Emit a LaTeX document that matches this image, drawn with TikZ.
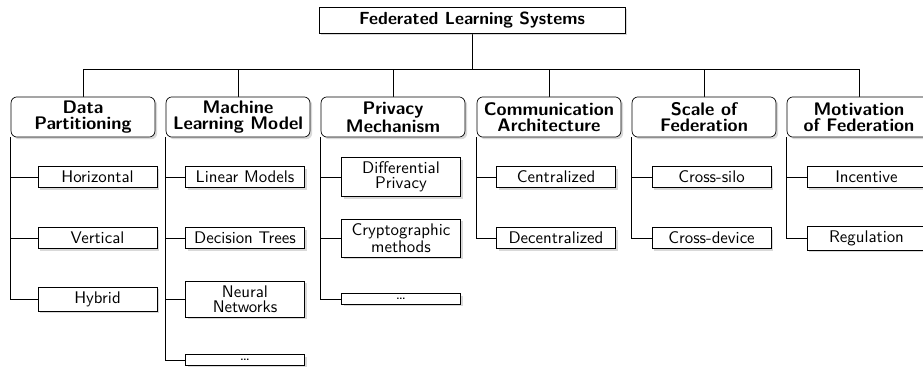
\documentclass[tikz,border=0pt]{standalone}
\usetikzlibrary{shadows}
\pgfdeclarelayer{edgelayer}
\pgfdeclarelayer{nodelayer}
\pgfsetlayers{edgelayer,nodelayer,main}
\tikzstyle{none}=[inner sep=0pt]
\tikzstyle{root}=[rectangle,draw=black,fill=white,minimum width=181.6pt,minimum height=15.4pt,inner sep=1pt,font=\sffamily\bfseries\fontsize{10.4}{11}\selectfont,drop shadow={shadow xshift=1.3pt,shadow yshift=-1.3pt,opacity=0.3}]
\tikzstyle{category}=[rectangle,rounded corners=3.5pt,draw=black,fill=white,minimum width=85.4pt,minimum height=23.8pt,inner sep=1pt,align=center,font=\sffamily\bfseries\fontsize{10.8}{9.4}\selectfont,drop shadow={shadow xshift=1.3pt,shadow yshift=-1.3pt,opacity=0.3}]
\tikzstyle{leaf}=[rectangle,draw=black,fill=white,minimum width=70.6pt,inner xsep=1pt,inner ysep=2.7pt,align=center,font=\sffamily\fontsize{10}{8.8}\selectfont,drop shadow={shadow xshift=1.3pt,shadow yshift=-1.3pt,opacity=0.3}]
\tikzstyle{branch}=[draw=black,line width=0.5pt]

\begin{document}
\begin{tikzpicture}[x=0.5935pt,y=-0.5935pt]
	\useasboundingbox (0,0) rectangle (923,367);
	\begin{pgfonlayer}{nodelayer}
		\node [style=root] (0) at (472, 20) {Federated Learning Systems};
		\node [style=category] (1) at (83, 117) {Data\\Partitioning};
		\node [style=category] (2) at (238, 117) {Machine\\Learning Model};
		\node [style=category] (3) at (393, 117) {Privacy\\Mechanism};
		\node [style=category] (4) at (549, 117) {Communication\\Architecture};
		\node [style=category] (5) at (704, 117) {Scale of\\Federation};
		\node [style=category] (6) at (859, 117) {Motivation\\of Federation};
		\node [style=none] (7) at (472, 69) {};
		\node [style=leaf] (8) at (97.5, 177) {Horizontal};
		\node [style=leaf] (9) at (97.5, 238) {Vertical};
		\node [style=leaf] (10) at (97.5, 299) {Hybrid};
		\node [style=leaf] (11) at (245, 177) {Linear Models};
		\node [style=leaf] (12) at (245, 238) {Decision Trees};
		\node [style=leaf] (13) at (245, 299) {Neural\\Networks};
		\node [style=leaf] (14) at (245, 360) {\dots};
		\node [style=leaf] (15) at (401, 177) {Differential\\Privacy};
		\node [style=leaf] (16) at (401, 238) {Cryptographic\\methods};
		\node [style=leaf] (17) at (401, 299) {\dots};
		\node [style=leaf] (18) at (556, 177) {Centralized};
		\node [style=leaf] (19) at (556, 238) {Decentralized};
		\node [style=leaf] (20) at (711.5, 177) {Cross-silo};
		\node [style=leaf] (21) at (711.5, 238) {Cross-device};
		\node [style=leaf] (22) at (866.5, 177) {Incentive};
		\node [style=leaf] (23) at (866.5, 238) {Regulation};
	\end{pgfonlayer}
	\begin{pgfonlayer}{edgelayer}
		\draw [style=branch] (0) -- (7.center);
		\draw [style=branch] (7.center) -| (1);
		\draw [style=branch] (7.center) -| (2);
		\draw [style=branch] (7.center) -| (3);
		\draw [style=branch] (7.center) -| (4);
		\draw [style=branch] (7.center) -| (5);
		\draw [style=branch] (7.center) -| (6);
		\draw [style=branch] (1.south west) |- (8);
		\draw [style=branch] (1.south west) |- (9);
		\draw [style=branch] (1.south west) |- (10);
		\draw [style=branch] (2.south west) |- (11);
		\draw [style=branch] (2.south west) |- (12);
		\draw [style=branch] (2.south west) |- (13);
		\draw [style=branch] (2.south west) |- (14);
		\draw [style=branch] (3.south west) |- (15);
		\draw [style=branch] (3.south west) |- (16);
		\draw [style=branch] (3.south west) |- (17);
		\draw [style=branch] (4.south west) |- (18);
		\draw [style=branch] (4.south west) |- (19);
		\draw [style=branch] (5.south west) |- (20);
		\draw [style=branch] (5.south west) |- (21);
		\draw [style=branch] (6.south west) |- (22);
		\draw [style=branch] (6.south west) |- (23);
	\end{pgfonlayer}
\end{tikzpicture}
\end{document}
